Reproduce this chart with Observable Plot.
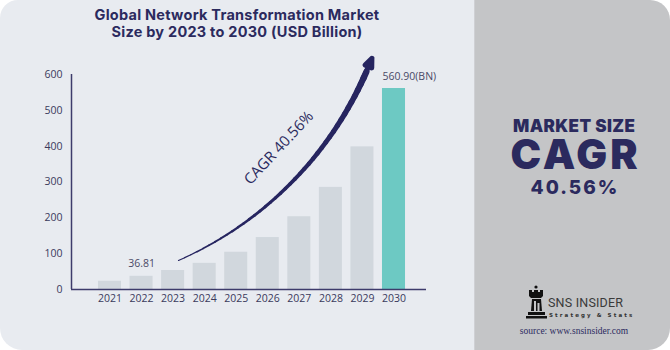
<!DOCTYPE html>
<html><head><meta charset="utf-8">
<script src="https://cdn.jsdelivr.net/npm/d3@7"></script>
<script src="https://cdn.jsdelivr.net/npm/@observablehq/plot@0.6"></script>
<style>
body{margin:0;background:#fff;}
#wrap{position:relative;width:670px;height:350px;overflow:hidden;font-family:"Open Sans",sans-serif;}
#left{position:absolute;left:0;top:0;width:474px;height:350px;background:#e8ebf0;border-radius:18px 0 0 22px;}
#right{position:absolute;left:474px;top:0;width:196px;height:350px;background:#c4c5c7;border-radius:0 20px 22px 0;border-left:1px solid #cfd0d4;box-sizing:border-box;}
#title{position:absolute;left:0;width:474px;top:6px;text-align:center;font:700 14.5px/17px Inter,"Open Sans",sans-serif;letter-spacing:0.25px;color:#2b2a5e;}
#chart{position:absolute;left:0;top:50px;}
.big{position:absolute;left:474px;width:200px;text-align:center;color:#2b2a5e;font-family:Inter,"Open Sans",sans-serif;line-height:1;white-space:nowrap;}
#logo{position:absolute;left:526px;top:285px;}
#sns{position:absolute;left:548px;top:297px;font:400 12.5px/1 Roboto,sans-serif;color:#3a3a3a;letter-spacing:0.2px;}
#strat{position:absolute;left:549px;top:313px;font:700 5.5px/1 "DejaVu Sans",sans-serif;color:#333;letter-spacing:2.1px;}
#src{position:absolute;left:474px;width:200px;top:327px;text-align:center;font:400 9.5px/1 "Liberation Serif",serif;color:#2b2a5e;}
</style></head>
<body>
<div id="wrap">
  <div id="left"></div>
  <div id="right"></div>
  <div id="title"></div>
  <div id="chart"></div>
  <div class="big" id="ms" style="top:118px;font-size:17px;font-weight:900;letter-spacing:0.4px;text-indent:0.4px;"></div>
  <div class="big" id="cg" style="top:134px;font-size:41px;font-weight:900;letter-spacing:3px;text-indent:3px;"></div>
  <div class="big" id="pc" style="top:178px;font-size:19px;font-weight:800;letter-spacing:2px;text-indent:2px;"></div>
  <svg id="logo" width="22" height="34" viewBox="0 0 22 34">
    <circle cx="10" cy="2" r="1.6" fill="#111"/>
    <path d="M3 5h3v2h2V5h4v2h2V5h3v6l-2 2H5l-2-2z" fill="#111"/>
    <path d="M6 14h9l1 12H5z" fill="#111"/>
    <rect x="8" y="16" width="2" height="10" fill="#c4c5c7"/>
    <rect x="11.5" y="18" width="2" height="8" fill="#c4c5c7"/>
    <rect x="2" y="27" width="17" height="3" fill="#111"/>
    <rect x="0" y="31" width="21" height="2.5" fill="#111"/>
  </svg>
  <div id="sns"></div>
  <div id="strat"></div>
  <div id="src"></div>
</div>
<script>
// ---- data ----
const years = [2021, 2022, 2023, 2024, 2025, 2026, 2027, 2028, 2029, 2030];
const values = [23, 36.81, 53, 73, 104, 145, 203, 285, 398, 560.9];
const yTicks = [0, 100, 200, 300, 400, 500, 600];
const highlightYear = 2030;
const labelCenterYears = [2022];
const labelCenterValues = [36.81];
const labelCenterTexts = ["36.81"];
const labelEndYears = [2030];
const labelEndValues = [560.9];
const labelEndTexts = ["560.90(BN)"];
const cagrText = "CAGR 40.56%";
const cagrArrow = {x1: 2023.17, y1: 81, x2: 2029.3, y2: 645};
const cagrBendDeg = 22.5;
const cagrTextPos = [{x: 2026.35, y: 395}];
const titleLines = ["Global Network Transformation Market", "Size by 2023 to 2030 (USD Billion)"];
const sideTexts = ["MARKET SIZE", "CAGR", "40.56%"];
const brand = ["SNS INSIDER", "Strategy & Stats", "source: www.snsinsider.com"];

document.getElementById("title").innerHTML = titleLines.join("<br>");
document.getElementById("ms").textContent = sideTexts[0];
document.getElementById("cg").textContent = sideTexts[1];
document.getElementById("pc").textContent = sideTexts[2];
document.getElementById("sns").textContent = brand[0];
document.getElementById("strat").textContent = brand[1];
document.getElementById("src").textContent = brand[2];

const data = years.map((year, i) => ({year, value: values[i]}));
const half = 0.365;
const xDomain = [2019.78, 2031.03];
const W = 474, H = 270, mL = 71, mR = 48, mT = 24, mB = 31;
const axisColor = "#3d3b6b";
const textColor = "#3a3a5c";
const navy = "#262560";

// tapered arc for the CAGR arrow, built from the two end points through Plot's own scales
const sx = Plot.scale({x: {domain: xDomain, range: [mL, W - mR]}});
const sy = Plot.scale({y: {domain: [0, 600], range: [H - mB, mT]}});
const p1 = [sx.apply(cagrArrow.x1), sy.apply(cagrArrow.y1)];
const p2 = [sx.apply(cagrArrow.x2), sy.apply(cagrArrow.y2)];
const dx = p2[0] - p1[0], dy = p2[1] - p1[1];
const c = Math.hypot(dx, dy);
const th = cagrBendDeg * Math.PI / 180;
const u = [dx / c, dy / c];
const n = [-u[1], u[0]]; // bulge direction
const r = c / (2 * Math.sin(th));
const mid = [(p1[0] + p2[0]) / 2, (p1[1] + p2[1]) / 2];
const ctr = [mid[0] - n[0] * r * Math.cos(th), mid[1] - n[1] * r * Math.cos(th)];
let a1 = Math.atan2(p1[1] - ctr[1], p1[0] - ctr[0]);
let a2 = Math.atan2(p2[1] - ctr[1], p2[0] - ctr[0]);
if (a2 - a1 > Math.PI) a2 -= 2 * Math.PI;
if (a1 - a2 > Math.PI) a2 += 2 * Math.PI;
const arcAt = t => {
  const a = a1 + (a2 - a1) * t;
  return [sx.invert(ctr[0] + r * Math.cos(a)), sy.invert(ctr[1] + r * Math.sin(a))];
};
const N = 40, tEnd = 0.95;
const segs = d3.range(N).map(i => {
  const t0 = tEnd * i / N, t1 = tEnd * (i + 1) / N;
  const q0 = arcAt(t0), q1 = arcAt(t1);
  return {x1: q0[0], y1: q0[1], x2: q1[0], y2: q1[1], w: 1 + 5.5 * t1};
});
const headFrom = arcAt(0.9), headTo = arcAt(1);
const head = [{x1: headFrom[0], y1: headFrom[1], x2: headTo[0], y2: headTo[1]}];

const chart = Plot.plot({
  width: W, height: H,
  marginLeft: mL, marginRight: mR, marginTop: mT, marginBottom: mB,
  x: {domain: xDomain, axis: null},
  y: {domain: [0, 600], axis: null},
  style: {background: "transparent", fontFamily: "'Open Sans', sans-serif", overflow: "visible"},
  marks: [
    Plot.rectY(data, {
      x1: d => d.year - half, x2: d => d.year + half, y: "value",
      fill: d => d.year === highlightYear ? "#6dc9c3" : "#d1d7dd"
    }),
    Plot.ruleY([0], {stroke: axisColor, strokeWidth: 1.5}),
    Plot.ruleX([xDomain[0]], {y1: 0, y2: 600, stroke: axisColor, strokeWidth: 1.5}),
    Plot.axisX({ticks: years, tickSize: 0, tickPadding: 5, tickFormat: d3.format("d"), fontSize: 10.5, fill: textColor}),
    Plot.axisY({ticks: yTicks, tickSize: 0, tickPadding: 9, fontSize: 10.5, fill: textColor}),
    Plot.text(labelCenterYears, {x: d => d, y: (d, i) => labelCenterValues[i], text: (d, i) => labelCenterTexts[i],
      dy: -13, fontSize: 10.5, fill: "#4a4a66"}),
    Plot.text(labelEndYears, {x: d => d - half, y: (d, i) => labelEndValues[i], text: (d, i) => labelEndTexts[i],
      dy: -12, textAnchor: "start", fontSize: 10.5, fill: "#4a4a66"}),
    Plot.link(segs, {x1: "x1", y1: "y1", x2: "x2", y2: "y2", stroke: navy, strokeWidth: "w", strokeLinecap: "round"}),
    Plot.arrow(head, {x1: "x1", y1: "y1", x2: "x2", y2: "y2", stroke: navy, strokeWidth: 5,
      headLength: 13, headAngle: 45, strokeLinejoin: "miter"}),
    Plot.text(cagrTextPos, {x: "x", y: "y", text: () => cagrText, rotate: -47,
      fontSize: 15, fill: "#2b2a5e"})
  ]
});
document.getElementById("chart").appendChild(chart);
</script>
</body></html>
